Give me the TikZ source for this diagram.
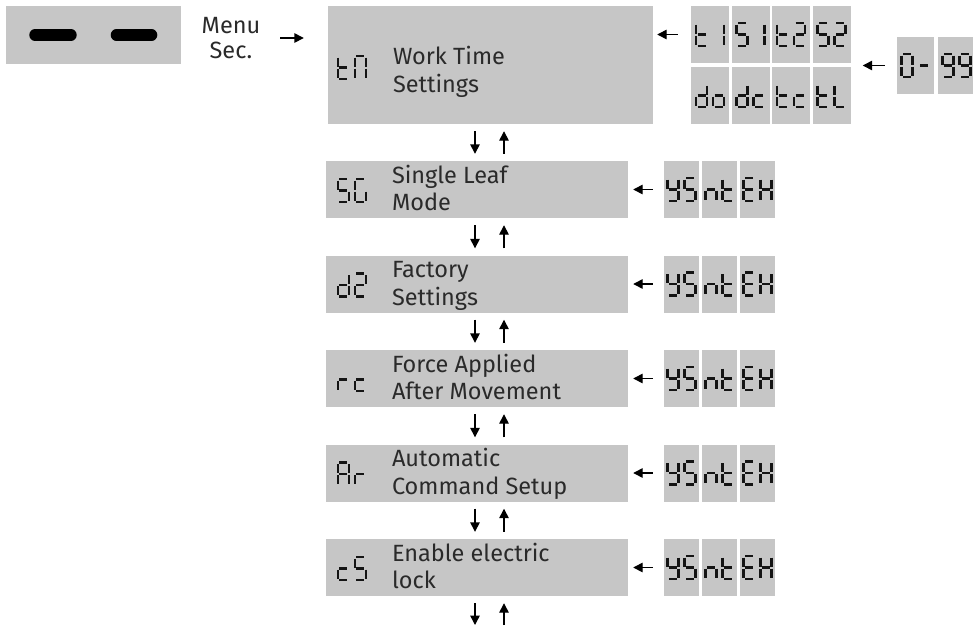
\documentclass[tikz,border=0pt]{standalone}
\usepackage{fontspec}
\setmainfont{Fira Sans}
\usepackage{tikz}
\usetikzlibrary{arrows.meta,calc,positioning}
\definecolor{Panel}{HTML}{C6C6C6}
\definecolor{Ink}{HTML}{2A2A2A}
\definecolor{Seg}{HTML}{141414}

% seven segment glyphs: a top, b/c right, d bottom, e/f left, g middle
\tikzset{
  seg-a/.style={insert path={(1.5,0)--(9.5,0)}},
  seg-b/.style={insert path={(11,1.5)--(11,10.5)}},
  seg-c/.style={insert path={(11,12.5)--(11,21.5)}},
  seg-d/.style={insert path={(1.5,23)--(9.5,23)}},
  seg-e/.style={insert path={(0,12.5)--(0,21.5)}},
  seg-f/.style={insert path={(0,1.5)--(0,10.5)}},
  seg-g/.style={insert path={(1.5,11.5)--(9.5,11.5)}},
  segline/.style={line width=2.4pt,draw=Seg},
  panel/.style={fill=Panel,draw=none,inner sep=0pt},
  menubox/.style={panel,minimum width=302,minimum height=57},
  cell/.style={panel,minimum width=38,minimum height=57},
  opt/.style={panel,minimum width=35,minimum height=57},
  lbl/.style={text=Ink,font=\fontsize{23.5}{27.4}\selectfont,align=left,inner sep=0pt,anchor=base west},
  arr/.style={line width=1.4pt,-{Triangle[length=9.5pt,width=9.5pt]}},
}
\newcommand{\segdigit}[2]{\edef\segtmp{#2}\begin{scope}[shift={#1}]\foreach \s in \segtmp {\draw[segline] (0,0) [seg-\s];}\end{scope}}
\def\sgT{d,e,f,g}
\def\sgN{a,b,c,e,f}
\def\sgS{a,c,d,f,g}
\def\sgG{a,c,d,e,f}
\def\sgA{a,b,c,e,f,g}
\def\sgR{e,g}
\def\sgOne{b,c}
\def\sgTwo{a,b,d,e,g}
\def\sgD{b,c,d,e,g}
\def\sgO{c,d,e,g}
\def\sgC{d,e,g}
\def\sgL{d,e,f}
\def\sgY{b,c,d,f,g}
\def\sgn{c,e,g}
\def\sgE{a,d,e,f,g}
\def\sgH{b,c,e,f,g}
\def\sgZero{a,b,c,d,e,f}
\def\sgDash{g}
\def\sgNine{a,b,c,d,f,g}

\begin{document}
\begin{tikzpicture}[x=1pt,y=-1pt]
\useasboundingbox (0,0) rectangle (973,627);

% keypad and menu entry
\node[panel,minimum width=175,minimum height=58] (keys) at (93.5,35) {};
\draw[line width=11.4pt,line cap=round] (35,35) -- (71,35);
\draw[line width=11.4pt,line cap=round] (116.4,35) -- (151.6,35);
\node[text=Ink,font=\fontsize{23.5}{25}\selectfont,align=center,inner sep=0pt] (menu) at (231,38) {Menu\\Sec.};

% work time panel
\node[panel,minimum width=325,minimum height=118] (tm) at (490.5,65) {};
\node[lbl] (tm-txt) at ($(tm.west)+(65,27)$) {Work Time\\Settings};
\segdigit{($(tm.west)+(10,-9)$)}{\sgT}
\segdigit{($(tm.west)+(27,-9)$)}{\sgN}
\draw[arr,shorten <=20pt,shorten >=24pt] (menu.east) -- (menu.east -| tm.west);

% time values
\node[cell] (t1) at (710,34.5) {};
\node[cell] (s1) at (750.5,34.5) {};
\node[cell] (t2) at (791,34.5) {};
\node[cell] (s2) at (831.5,34.5) {};
\node[cell] (do) at (710,95.5) {};
\node[cell] (dc) at (750.5,95.5) {};
\node[cell] (tc) at (791,95.5) {};
\node[cell] (tl) at (831.5,95.5) {};
\foreach \c/\ga/\gb in {t1/\sgT/\sgOne,s1/\sgS/\sgOne,t2/\sgT/\sgTwo,s2/\sgS/\sgTwo,
                        do/\sgD/\sgO,dc/\sgD/\sgC,tc/\sgT/\sgC,tl/\sgT/\sgL}{
  \segdigit{($(\c.center)+(-14,-11.5)$)}{\ga}
  \segdigit{($(\c.center)+(3,-11.5)$)}{\gb}
}
\draw[arr,shorten <=13pt,shorten >=4pt] (t1.west) -- (t1.west -| tm.east);

% range
\node[panel,minimum width=37,minimum height=57] (zero) at (915.5,65.5) {};
\node[panel,minimum width=37,minimum height=57] (nine) at (956.5,65.5) {};
\segdigit{($(zero.center)+(-14,-11.5)$)}{\sgZero}
\segdigit{($(zero.center)+(3,-11.5)$)}{\sgDash}
\segdigit{($(nine.center)+(-14,-11.5)$)}{\sgNine}
\segdigit{($(nine.center)+(3,-11.5)$)}{\sgNine}
\draw[arr,shorten <=12pt,shorten >=12pt] (zero.west) -- (zero.west -| s2.east);

% menu entries
\foreach \n/\y/\ga/\gb/\txt in {
  sg/189.5/\sgS/\sgG/{Single Leaf\\Mode},
  dz/284/\sgD/\sgTwo/{Factory\\Settings},
  rc/378.5/\sgR/\sgC/{Force Applied\\After Movement},
  ar/473/\sgA/\sgR/{Automatic\\Command Setup},
  cs/567.5/\sgC/\sgS/{Enable electric\\lock}}{
  \node[menubox] (\n) at (477,\y) {};
  \node[lbl] (\n-txt) at ($(\n.west)+(66,21.2)$) {\txt};
  \segdigit{($(\n.west)+(12,-10.5)$)}{\ga}
  \segdigit{($(\n.west)+(29,-10.5)$)}{\gb}
  \node[opt] (\n-ys) at (681.5,\y) {};
  \node[opt] (\n-nt) at (719.5,\y) {};
  \node[opt] (\n-ex) at (757.5,\y) {};
  \segdigit{($(\n-ys.center)+(-14,-11.5)$)}{\sgY}
  \segdigit{($(\n-ys.center)+(3,-11.5)$)}{\sgS}
  \segdigit{($(\n-nt.center)+(-14,-11.5)$)}{\sgn}
  \segdigit{($(\n-nt.center)+(3,-11.5)$)}{\sgT}
  \segdigit{($(\n-ex.center)+(-14,-11.5)$)}{\sgE}
  \segdigit{($(\n-ex.center)+(3,-11.5)$)}{\sgH}
  \draw[arr,shorten <=11pt,shorten >=5pt] (\n-ys.west) -- (\n-ys.west -| \n.east);
}

% up and down between entries
\coordinate (dn) at (475,0);
\coordinate (up) at (504,0);
\coordinate (out) at (0,625);
\foreach \u/\v in {tm/sg,sg/dz,dz/rc,rc/ar,ar/cs}{
  \draw[arr,shorten <=7pt,shorten >=7pt] (\u.south -| dn) -- (\v.north -| dn);
  \draw[arr,shorten <=7pt,shorten >=7pt] (\v.north -| up) -- (\u.south -| up);
}
\draw[arr,shorten <=7pt] (cs.south -| dn) -- (out -| dn);
\draw[arr,shorten >=7pt] (out -| up) -- (cs.south -| up);
\end{tikzpicture}
\end{document}
